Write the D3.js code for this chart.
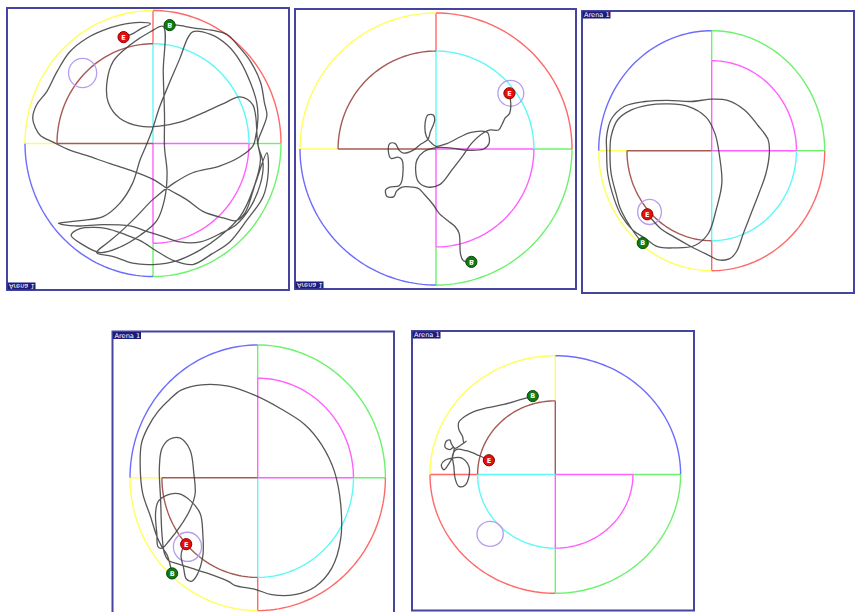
<!DOCTYPE html>
<html>
<head>
<meta charset="utf-8">
<script src="https://cdn.jsdelivr.net/npm/d3@7"></script>
<style>
  body { margin: 0; background: #ffffff; }
  svg { display: block; }
</style>
</head>
<body>
<svg id="chart" width="855" height="612"></svg>
<script>
// ---- arena zones (drawing order: later zones paint over shared edges) ----
const outerZones = ["blue", "yellow", "red", "green"];
const innerZones = ["brown", "cyan", "magenta"];
const innerOf = { yellow: "brown", red: "cyan", green: "magenta" };
const zoneColor = {
  blue: "#6c6cff", yellow: "#ffff5c", red: "#ff6868", green: "#6cf26c",
  brown: "#a65a55", cyan: "#5ef8f8", magenta: "#ff60ff"
};

// quadrant of each outer zone, per trial
const quads1 = { blue: "BL", yellow: "TL", red: "TR", green: "BR" };
const quads2 = { blue: "BL", yellow: "TL", red: "TR", green: "BR" };
const quads3 = { blue: "TL", yellow: "BL", red: "BR", green: "TR" };
const quads4 = { blue: "TL", yellow: "BL", red: "BR", green: "TR" };
const quads5 = { blue: "TR", yellow: "TL", red: "BL", green: "BR" };

// ---- swim paths, arena units (centre 0,0, wall radius 100, y downwards) ----
const track1 = [
  [13,-89],[19,-89],[31,-87],[47,-85],[58,-82],[66,-74],[76,-62],[84,-46],[87,-31],[89,-21],[86,-12],[82,-1],
  [84,12],[78,35],[68,55],[52,70],[37,80],[19,88],[0,91],[-16,90],[-31,85],[-44,82],
  [-36,75],[-26,67],[-13,55],[0,42],[16,30],[31,22],[52,17],[68,10],[78,2],[80,-4],[82,-19],[81,-31],
  [76,-46],[68,-62],[58,-74],[45,-82],[31,-84],
  [27,-79],[21,-64],[13,-46],[5,-27],[-1,-9],[-6,3],[-10,12],[-16,30],[-26,45],[-39,55],[-57,58],[-74,60],
  [-61,62],[-39,61],[-18,62],[-5,66],[8,70],[21,74],[37,74],[54,67],[65,61],[76,48],[84,30],[86,15],[82,1],
  [78,-29],[68,-35],[55,-30],[39,-23],[21,-16],[5,-13],[-10,-13],[-26,-19],[-35,-31],[-36,-46],[-31,-62],
  [-18,-74],[-2,-84],[8,-88],
  [8,-54],[9,-21],[9,3],[11,22],[9,42],[3,58],[-10,69],[-26,78],[-41,82],
  [-55,76],[-64,69],[-57,64],[-46,63],[-36,64],[-23,68],[-10,73],[3,81],[16,88],[31,91],[46,83],[60,74],
  [73,58],[86,40],[90,22],[89,7],
  [80,30],[72,52],[65,58],[55,56],[39,51],[26,42],[13,35],[0,27],[-18,20],[-34,15],[-52,9],[-65,5],[-78,-1],
  [-88,-6],[-92,-12],[-94,-19],[-91,-29],[-83,-39],[-75,-54],[-65,-69],[-52,-79],[-39,-85],[-26,-89],
  [-10,-91],[-2,-90],[-10,-86],[-17,-82],[-23,-80]
];
const track2 = [
  [26,83],[20,82],[18,77],[17,62],[14,57],[9,53],[2,47],[-2,41],[-8,34],[-13,29],[-18,28],[-25,28],
  [-29,31],[-31,35],[-36,35],[-37,30],[-34,28],[-27,27],[-25,23],[-25,8],[-28,6],[-33,7],[-35,2],[-34,-4],
  [-30,-4],[-27,1],[-24,3],[-17,1],[-12,-3],[-6,-7],[-4,-13],[-1,-21],[-2,-25],[-6,-25],[-8,-19],[-7,-9],
  [-3,-4],[0,-2],[8,-4],[18,-9],[25,-12],[35,-13],[38,-12],[39,-4],[35,0],[25,1],[16,0],[8,-1],[0,-1],
  [-9,2],[-14,8],[-15,15],[-13,24],[-6,28],[3,26],[12,15],[19,6],[26,-4],[35,-12],[40,-14],[46,-14],
  [49,-19],[51,-23],[54,-26],[55,-32],[54,-41]
];
const track3 = [
  [-61,77],[-68,69],[-81,48],[-84,38],[-89,19],[-90,2],[-89,-12],[-83,-26],[-71,-34],[-56,-38],[-39,-39],
  [-21,-37],[-5,-28],[3,-14],[7,5],[9,27],[4,49],[-3,69],[-15,79],[-33,81],[-48,80],[-59,73],[-70,66],
  [-80,54],[-86,41],[-92,19],[-93,-1],[-93,-12],[-89,-26],[-77,-37],[-59,-41],[-39,-42],[-18,-41],[0,-43],
  [14,-42],[29,-34],[41,-21],[50,-9],[51,2],[48,19],[42,35],[35,52],[28,69],[22,84],[16,90],[6,91],
  [-3,87],[-18,80],[-33,72],[-45,65],[-55,55],[-57,53]
];
const track4 = [
  [-67,72],[-69,64],[-71,58],[-75,52],[-79,44],[-84,29],[-90,12],[-92,-8],[-91,-26],[-86,-38],[-78,-50],
  [-69,-59],[-60,-66],[-44,-70],[-23,-69],[-2,-62],[18,-52],[37,-40],[50,-25],[60,-5],[65,20],[65,46],
  [58,68],[45,82],[29,88],[11,88],[-2,84],[-18,81],[-23,78],[-39,72],[-52,68],[-62,65],[-70,62],[-73,57],
  [-75,42],[-76,17],[-77,-8],[-75,-22],[-69,-29],[-61,-30],[-53,-21],[-50,-3],[-49,12],[-53,24],[-61,37],
  [-69,47],[-75,53],[-78,52],[-79,42],[-80,27],[-78,18],[-71,13],[-62,12],[-53,17],[-45,27],[-43,42],
  [-43,59],[-48,74],[-52,78],[-56,76],[-58,68],[-60,59],[-59,54],[-56,50]
];
const track5 = [
  [-18,-66],[-28,-63],[-41,-59],[-55,-56],[-65,-53],[-72,-49],[-77,-44],[-77,-38],[-74,-32],[-73,-27],
  [-71,-28],[-75,-25],[-80,-22],[-83,-26],[-84,-29],[-87,-28],[-88,-23],[-84,-21],[-81,-23],[-82,-15],
  [-85,-9],[-89,-4],[-91,-8],[-88,-12],[-81,-14],[-75,-14],[-69,-7],[-69,2],[-72,9],[-77,10],[-80,3],
  [-81,-7],[-82,-16],[-79,-21],[-71,-20],[-61,-16],[-53,-12]
];

// start (B) and end (E) points, platform [x, y, radius] per trial
const starts = [[13,-89],[26,83],[-61,77],[-67,72],[-18,-66]];
const ends = [[-23,-80],[54,-41],[-57,53],[-56,50],[-53,-12]];
const platforms = [[-55,-53,11],[55,-41,9.5],[-55,51,10.5],[-55,52,11],[-52,50,10.5]];
const arenaLabel = "Arena 1";

// ---- layout ----
const panels = [
  { frame: [7, 8, 289, 290], cx: 153, cy: 143.5, rx: 128, ry: 133, inner: 0.75, flip: true, quads: quads1, track: track1 },
  { frame: [295, 9, 576, 289], cx: 436, cy: 149, rx: 136, ry: 136, inner: 0.72, flip: true, quads: quads2, track: track2 },
  { frame: [582, 11, 854, 293], cx: 711.7, cy: 150.7, rx: 113, ry: 120, inner: 0.75, flip: false, quads: quads3, track: track3 },
  { frame: [112.5, 331.5, 394, 618], cx: 257.7, cy: 477.8, rx: 127.7, ry: 132.8, inner: 0.75, flip: false, quads: quads4, track: track4 },
  { frame: [412, 331, 694, 610.5], cx: 555.3, cy: 474.5, rx: 125.3, ry: 118.8, inner: 0.62, flip: false, quads: quads5, track: track5 }
];
const quadStart = { TR: 0, BR: Math.PI / 2, BL: Math.PI, TL: 3 * Math.PI / 2 };
const quadEdges = { TR: ["up", "right"], BR: ["right", "down"], BL: ["down", "left"], TL: ["left", "up"] };
const edgeDir = { up: [0, -1], right: [1, 0], down: [0, 1], left: [-1, 0] };

const svg = d3.select("#chart");

panels.forEach((p, i) => {
  const g = svg.append("g");
  const x = d3.scaleLinear().domain([-100, 100]).range([p.cx - p.rx, p.cx + p.rx]);
  const y = d3.scaleLinear().domain([-100, 100]).range([p.cy - p.ry, p.cy + p.ry]);
  const line = d3.line().x(d => x(d[0])).y(d => y(d[1]));
  const rIn = 100 * p.inner;

  // frame
  const [x0, y0, x1, y1] = p.frame;
  g.append("rect")
    .attr("x", x0).attr("y", y0).attr("width", x1 - x0).attr("height", y1 - y0)
    .attr("fill", "#ffffff").attr("stroke", "#4545a0").attr("stroke-width", 2);

  // quarter arc
  const arc = (quad, r) => {
    const a0 = quadStart[quad];
    return line(d3.range(0, 49).map(k => {
      const a = a0 + (k / 48) * Math.PI / 2;
      return [r * Math.sin(a), -r * Math.cos(a)];
    }));
  };
  const stroke = (sel, c) => sel.attr("fill", "none").attr("stroke", c).attr("stroke-width", 1.4);

  // zone boundaries along the four radii: the last zone drawn owns the edge
  Object.keys(edgeDir).forEach(e => {
    const outerOwner = outerZones.filter(z => quadEdges[p.quads[z]].includes(e)).pop();
    const innerOwner = innerZones.filter(z => {
      const o = outerZones.find(k => innerOf[k] === z);
      return quadEdges[p.quads[o]].includes(e);
    }).pop() || outerOwner;
    const [dx, dy] = edgeDir[e];
    stroke(g.append("path").attr("d", line([[dx * rIn, dy * rIn], [dx * 100, dy * 100]])), zoneColor[outerOwner]);
    stroke(g.append("path").attr("d", line([[0, 0], [dx * rIn, dy * rIn]])), zoneColor[innerOwner]);
  });

  // outer wall arcs and inner zone arcs
  outerZones.forEach(z => stroke(g.append("path").attr("d", arc(p.quads[z], 100)), zoneColor[z]));
  innerZones.forEach(z => {
    const owner = outerZones.find(o => innerOf[o] === z);
    stroke(g.append("path").attr("d", arc(p.quads[owner], rIn)), zoneColor[z]);
  });

  // platform
  const pf = platforms[i];
  g.append("ellipse")
    .attr("cx", x(pf[0])).attr("cy", y(pf[1]))
    .attr("rx", x(pf[2]) - x(0)).attr("ry", y(pf[2]) - y(0))
    .attr("fill", "none").attr("stroke", "#b69cf2").attr("stroke-width", 1.3);

  // swim path
  g.append("path")
    .attr("d", line.curve(d3.curveCatmullRom.alpha(0.5))(p.track))
    .attr("fill", "none").attr("stroke", "#3a3a3a").attr("stroke-width", 1.3)
    .attr("stroke-opacity", 0.85).attr("stroke-linejoin", "round");

  // start / end markers
  const marker = (pt, fill, edge, letter) => {
    const mg = g.append("g").attr("transform", `translate(${x(pt[0])},${y(pt[1])})`);
    mg.append("circle").attr("r", 5.6).attr("fill", fill).attr("stroke", edge).attr("stroke-width", 1);
    mg.append("text").text(letter)
      .attr("text-anchor", "middle").attr("dy", "0.36em")
      .attr("transform", p.flip ? "scale(1,-1)" : null)
      .attr("font-family", "DejaVu Sans, sans-serif").attr("font-size", 6.5).attr("font-weight", "bold")
      .attr("fill", "#ffffff");
  };
  marker(starts[i], "#0f7a12", "#0a4a0a", "B");
  marker(ends[i], "#e80c0c", "#8a0000", "E");

  // arena label tab
  const lw = 28, lh = 7;
  const ly = p.flip ? y1 - lh - 0.5 : y0 + 0.5;
  g.append("rect").attr("x", x0 + 0.5).attr("y", ly).attr("width", lw).attr("height", lh)
    .attr("fill", "#1c1c7c");
  g.append("text").text(arenaLabel)
    .attr("transform", p.flip
      ? `translate(${x0 + 2},${ly + 1.2}) scale(1,-1)`
      : `translate(${x0 + 2},${ly + lh - 1.2})`)
    .attr("font-family", "DejaVu Sans, sans-serif").attr("font-size", 6.6)
    .attr("fill", "#ffffff");
});
</script>
</body>
</html>
